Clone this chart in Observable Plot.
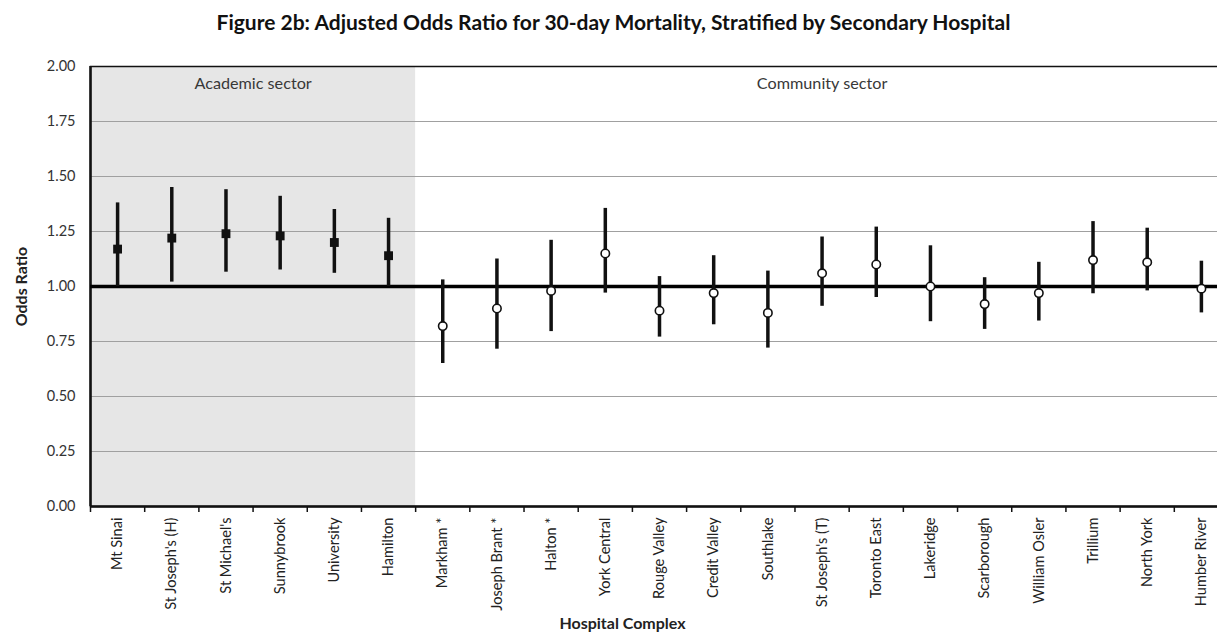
<!DOCTYPE html>
<html>
<head>
<meta charset="utf-8">
<script src="https://cdn.jsdelivr.net/npm/d3@7"></script>
<script src="https://cdn.jsdelivr.net/npm/@observablehq/plot@0.6"></script>
<style>
  html, body { margin: 0; padding: 0; background: #fff; overflow: hidden; }
  #title { width: 1217px; height: 44px; line-height: 44px; text-align: center; font-family: Lato, "Open Sans", sans-serif; font-weight: bold; font-size: 21px; color: #111; padding-left: 10px; box-sizing: border-box; white-space: nowrap; }
  #chart { width: 1217px; overflow: hidden; }
  #chart svg { max-width: none !important; }
</style>
</head>
<body>
<div id="title">Figure 2b: Adjusted Odds Ratio for 30-day Mortality, Stratified by Secondary Hospital</div>
<div id="chart"></div>
<script>
const categories = ["Mt Sinai", "St Joseph's (H)", "St Michael's", "Sunnybrook", "University", "Hamilton",
  "Markham *", "Joseph Brant *", "Halton *", "York Central", "Rouge Valley", "Credit Valley", "Southlake",
  "St Joseph's (T)", "Toronto East", "Lakeridge", "Scarborough", "William Osler", "Trillium", "North York", "Humber River"];
const sectors = ["Academic", "Academic", "Academic", "Academic", "Academic", "Academic",
  "Community", "Community", "Community", "Community", "Community", "Community", "Community",
  "Community", "Community", "Community", "Community", "Community", "Community", "Community", "Community"];
const oddsRatio = [1.17, 1.22, 1.24, 1.23, 1.20, 1.14,
  0.82, 0.90, 0.98, 1.15, 0.89, 0.97, 0.88, 1.06, 1.10, 1.00, 0.92, 0.97, 1.12, 1.11, 0.99];
const lowerCI = [1.00, 1.02, 1.065, 1.075, 1.06, 1.00,
  0.65, 0.715, 0.795, 0.97, 0.77, 0.826, 0.72, 0.91, 0.95, 0.84, 0.805, 0.843, 0.967, 0.98, 0.88];
const upperCI = [1.38, 1.45, 1.44, 1.41, 1.35, 1.31,
  1.03, 1.125, 1.21, 1.355, 1.045, 1.14, 1.07, 1.225, 1.27, 1.185, 1.04, 1.11, 1.295, 1.265, 1.115];
const yTicks = [0, 0.25, 0.5, 0.75, 1, 1.25, 1.5, 1.75, 2];
const sectorLabels = ["Academic sector", "Community sector"];

const data = categories.map((c, i) => ({
  name: c, pos: i + 0.5, sector: sectors[i], or: oddsRatio[i], lo: lowerCI[i], hi: upperCI[i]
}));
const academic = data.filter(d => d.sector === "Academic");
const community = data.filter(d => d.sector === "Community");
const nAcad = academic.length;
const n = categories.length;
const sectorText = [
  {x: nAcad / 2, label: sectorLabels[0]},
  {x: (nAcad + n) / 2, label: sectorLabels[1]}
];

const font = "Lato, 'Open Sans', sans-serif";
const chart = Plot.plot({
  width: 1228,
  height: 593,
  marginLeft: 90,
  marginRight: 0,
  marginTop: 22,
  marginBottom: 131,
  style: {fontFamily: font, fontSize: "14px", color: "#222", background: "#fff"},
  x: {domain: [0, n], axis: null},
  y: {domain: [0, 2], axis: null},
  marks: [
    Plot.rect([{x1: 0, x2: nAcad, y1: 0, y2: 2}], {x1: "x1", x2: "x2", y1: "y1", y2: "y2", fill: "#e6e6e6"}),
    Plot.gridY(yTicks.filter(v => v !== 0 && v !== 1 && v !== 2), {stroke: "#a0a0a0", strokeOpacity: 1, strokeWidth: 1}),
    Plot.axisY(yTicks, {tickSize: 0, tickPadding: 15, tickFormat: d3.format(".2f"), fontSize: 14.5, fill: "#333"}),
    Plot.axisX(d3.range(n + 1), {tickSize: 6, tickFormat: () => "", strokeWidth: 1.5, stroke: "#111"}),
    Plot.axisX(data.map(d => d.pos), {tickSize: 0, tickPadding: 11, tickRotate: -90, tickFormat: p => categories[Math.floor(p)], fontSize: 14.6, fill: "#222"}),
    Plot.frame({stroke: "#111", strokeWidth: 1.5}),
    Plot.ruleY([0], {stroke: "#111", strokeWidth: 2.5}),
    Plot.ruleX([0], {stroke: "#111", strokeWidth: 2.5}),
    Plot.ruleY([1], {stroke: "#000", strokeWidth: 3.5}),
    Plot.text(sectorText, {x: "x", y: 2, text: "label", dy: 17, fontSize: 16.2, fill: "#383838"}),
    Plot.ruleX(data, {x: "pos", y1: "lo", y2: "hi", stroke: "#111", strokeWidth: 3.5}),
    Plot.dot(academic, {x: "pos", y: "or", symbol: "square", r: 5, fill: "#111", stroke: "none"}),
    Plot.dot(community, {x: "pos", y: "or", symbol: "circle", r: 4.2, fill: "#fff", stroke: "#111", strokeWidth: 1.6}),
    Plot.text(["Odds Ratio"], {frameAnchor: "left", textAnchor: "middle", rotate: -90, dx: -69, fontWeight: "bold", fontSize: 16, fill: "#222"}),
    Plot.text(["Hospital Complex"], {frameAnchor: "bottom", textAnchor: "middle", dx: -37, dy: 122, fontWeight: "bold", fontSize: 16, fill: "#222"})
  ]
});
document.getElementById("chart").appendChild(chart);
</script>
</body>
</html>
